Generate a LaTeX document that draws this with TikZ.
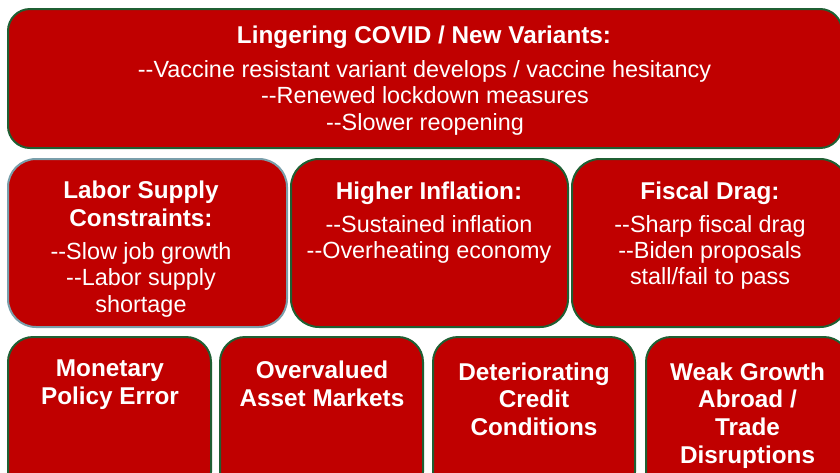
\documentclass[tikz,border=0pt]{standalone}
\usepackage{fontspec}
\setmainfont{Liberation Sans}
\definecolor{riskred}{HTML}{C00000}
\definecolor{edgegreen}{HTML}{1F5F33}
\definecolor{edgeslate}{HTML}{7A9FAB}
% two hyphens kept apart so they do not merge into a dash
\newcommand{\dsh}{-\kern0pt-}
\begin{document}
\begin{tikzpicture}[x=1pt, y=-1pt,
  box/.style={rectangle, draw=edgegreen, fill=riskred, line width=2pt, inner sep=0pt},
  ttl/.style={text=white, font=\fontsize{24.3}{28}\selectfont\bfseries, anchor=base, inner sep=0pt},
  txt/.style={text=white, font=\fontsize{23.4}{26.5}\selectfont, anchor=base, inner sep=0pt}]
\useasboundingbox (0,0) rectangle (840,472);
\clip (0,0) rectangle (840,472);
\fill[white] (0,0) rectangle (840,472);

% top banner
\node[box, rounded corners=22pt, minimum width=834pt, minimum height=139pt] (covid) at (425,78.5) {};
\node[ttl] (covidT) at (424,43) {Lingering COVID / New Variants:};
\node[txt] (covidA) at (424.5,77) {\dsh Vaccine resistant variant develops / vaccine hesitancy};
\node[txt] (covidB) at (425,103.5) {\dsh Renewed lockdown measures};
\node[txt] (covidC) at (425,130) {\dsh Slower reopening};

% middle row
\node[box, draw=edgeslate, rounded corners=28pt, minimum width=279pt, minimum height=168pt] (labor) at (147.5,243) {};
\node[ttl] (laborT1) at (141,198) {Labor Supply};
\node[ttl] (laborT2) at (141,226) {Constraints:};
\node[txt] (laborA) at (141,259) {\dsh Slow job growth};
\node[txt] (laborB) at (141,285) {\dsh Labor supply};
\node[txt] (laborC) at (141,312) {shortage};

\node[box, rounded corners=28pt, minimum width=277pt, minimum height=168pt] (infl) at (429.5,243) {};
\node[ttl] (inflT) at (429,199) {Higher Inflation:};
\node[txt] (inflA) at (429,232) {\dsh Sustained inflation};
\node[txt] (inflB) at (429,258) {\dsh Overheating economy};

\node[box, rounded corners=28pt, minimum width=276pt, minimum height=168pt] (fisc) at (710,243) {};
\node[ttl] (fiscT) at (710,199) {Fiscal Drag:};
\node[txt] (fiscA) at (710,232) {\dsh Sharp fiscal drag};
\node[txt] (fiscB) at (710,258) {\dsh Biden proposals};
\node[txt] (fiscC) at (710,284) {stall/fail to pass};

% bottom row
\node[box, rounded corners=25pt, minimum width=203pt, minimum height=160pt] (mon) at (109.5,417) {};
\node[ttl] (monA) at (110,376) {Monetary};
\node[ttl] (monB) at (110,404) {Policy Error};

\node[box, rounded corners=25pt, minimum width=203pt, minimum height=160pt] (over) at (321.5,417) {};
\node[ttl] (overA) at (322,378) {Overvalued};
\node[ttl] (overB) at (322,406) {Asset Markets};

\node[box, rounded corners=25pt, minimum width=202pt, minimum height=160pt] (cred) at (534,417) {};
\node[ttl] (credA) at (534,380) {Deteriorating};
\node[ttl] (credB) at (534,407) {Credit};
\node[ttl] (credC) at (534,435) {Conditions};

\node[box, rounded corners=25pt, minimum width=203pt, minimum height=160pt] (weak) at (747.5,417) {};
\node[ttl] (weakA) at (747.5,380) {Weak Growth};
\node[ttl] (weakB) at (747.5,407) {Abroad /};
\node[ttl] (weakC) at (747.5,435) {Trade};
\node[ttl] (weakD) at (747.5,463) {Disruptions};
\end{tikzpicture}
\end{document}
